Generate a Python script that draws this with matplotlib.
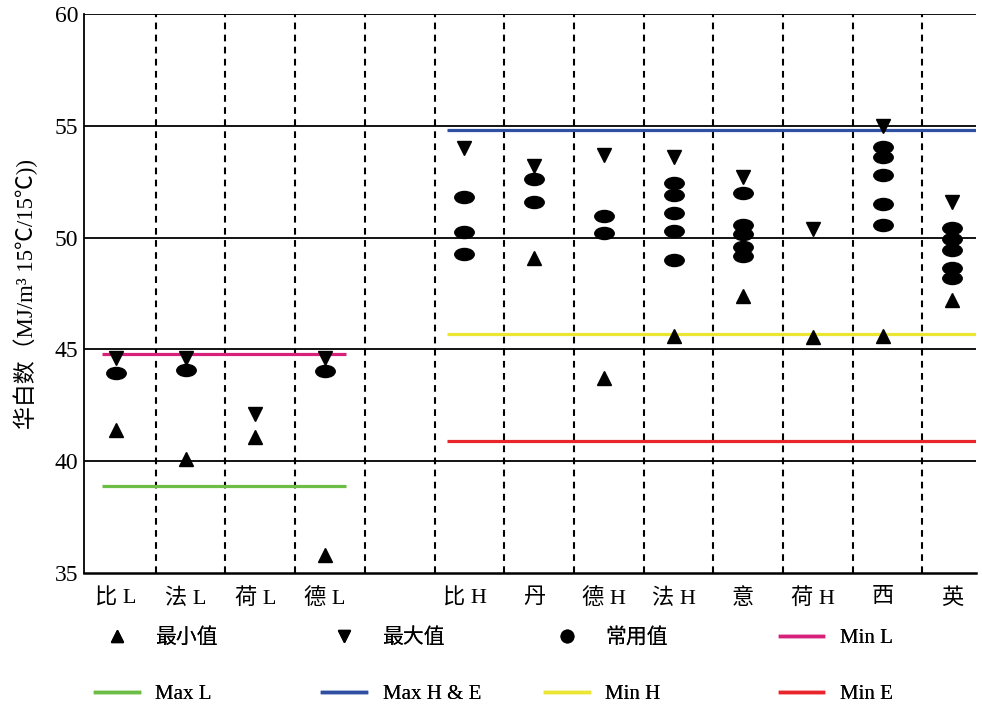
import matplotlib
matplotlib.use("Agg")
import matplotlib.pyplot as plt
from matplotlib.lines import Line2D
from matplotlib.path import Path
from matplotlib.transforms import Affine2D

plt.rcParams['font.family'] = ['Liberation Serif', 'Noto Sans CJK SC', 'DejaVu Sans']

# categories (slot 4 is an empty gap between L and H groups)
categories = ['比 L', '法 L', '荷 L', '德 L', '', '比 H', '丹', '德 H', '法 H', '意', '荷 H', '西', '英']
min_vals = [41.4, 40.1, 41.1, 35.8, None, None, 49.1, 43.7, 45.6, 47.4, 45.55, 45.6, 47.2]
max_vals = [44.6, 44.6, 42.1, 44.6, None, 54.0, 53.2, 53.7, 53.6, 52.7, 50.4, 55.0, 51.6]
common_vals = [
    [43.95], [44.1], [], [44.05], [],
    [51.8, 50.25, 49.25],
    [52.6, 51.6],
    [50.95, 50.2],
    [52.45, 51.9, 51.1, 50.3, 49.0],
    [52.0, 50.55, 50.15, 49.6, 49.2],
    [],
    [54.05, 53.6, 52.8, 51.5, 50.55],
    [50.45, 49.95, 49.45, 48.65, 48.2],
]

# limit lines
min_l = 44.8
max_l = 38.9
max_he = 54.8
min_h = 45.7
min_e = 40.9
l_span = (-0.2, 3.3)
h_span = (4.75, 12.34)

y_ticks = [35, 40, 45, 50, 55, 60]

fig = plt.figure(figsize=(9.82, 7.06), dpi=100)
ax = fig.add_axes([0.0855, 0.1884, 0.9084, 0.7917])

x = list(range(len(categories)))
ax.set_xlim(-0.46, 12.34)
ax.set_ylim(35, 60)

# horizontal grid lines
for yv in y_ticks[1:]:
    ax.axhline(yv, color='black', lw=1.3, zorder=1)

# dashed separators between categories
for i in x[:-1]:
    ax.axvline(i + 0.57, color='black', lw=1.5, ls=(0, (3.2, 2.6)), zorder=1)

# limit lines
ax.hlines(min_l, *l_span, color='#d6207a', lw=2.3, zorder=2)
ax.hlines(max_l, *l_span, color='#6cbd45', lw=2.3, zorder=2)
ax.hlines(max_he, *h_span, color='#2f4fa2', lw=2.3, zorder=2)
ax.hlines(min_h, *h_span, color='#ebe634', lw=2.3, zorder=2)
ax.hlines(min_e, *h_span, color='#e8252b', lw=2.3, zorder=2)

ellipse = Path.unit_circle().transformed(Affine2D().scale(1.0, 0.62))

for i in x:
    if min_vals[i] is not None:
        ax.plot(i, min_vals[i], marker='^', color='black', ms=9.5, ls='none', zorder=3)
    if max_vals[i] is not None:
        ax.plot(i, max_vals[i], marker='v', color='black', ms=9.5, ls='none', zorder=3)
    for v in common_vals[i]:
        ax.plot(i, v, marker=ellipse, color='black', ms=14, ls='none', zorder=3)

ax.set_xticks(x)
ax.set_xticklabels(categories, fontsize=16)
ax.set_yticks(y_ticks)
ax.set_yticklabels([str(t) for t in y_ticks], fontsize=17)
ax.tick_params(axis='both', length=0)
ax.tick_params(axis='x', pad=11)
ax.tick_params(axis='y', pad=4)

ax.set_ylabel('华白数（MJ/m³ 15℃/15℃))', fontsize=16.5, labelpad=12)

ax.spines['right'].set_visible(False)
ax.spines['top'].set_visible(False)
ax.spines['left'].set_linewidth(1.3)
ax.spines['bottom'].set_linewidth(1.8)

# legend: four columns, two rows
def mk(marker, ms):
    return Line2D([], [], marker=marker, color='black', ls='none', ms=ms)

def ln(color):
    return Line2D([], [], color=color, lw=2.5)

columns = [
    ([mk('^', 9), ln('#6cbd45')], ['最小值', 'Max L']),
    ([mk('v', 9), ln('#2f4fa2')], ['最大值', 'Max H & E']),
    ([mk('o', 9), ln('#ebe634')], ['常用值', 'Min H']),
    ([ln('#d6207a'), ln('#e8252b')], ['Min L', 'Min E']),
]
col_x = [0.0967, 0.328, 0.555, 0.794]
for (handles, labels), cx in zip(columns, col_x):
    leg = fig.legend(handles, labels, loc='upper left', bbox_to_anchor=(cx, 0.11),
                     frameon=False, fontsize=15, handlelength=2.1, handletextpad=0.8,
                     labelspacing=1.75, borderpad=0, borderaxespad=0)
    fig.add_artist(leg)

fig.savefig('out.png', dpi=100)
